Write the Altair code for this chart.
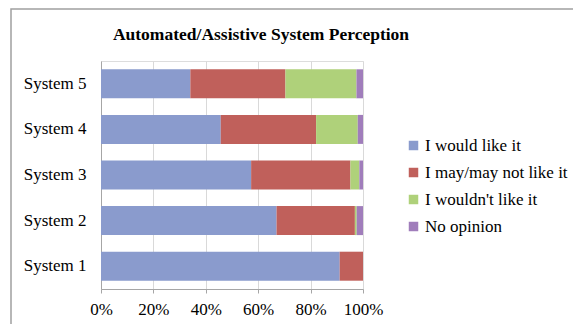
import altair as alt
import pandas as pd

systems = ["System 5", "System 4", "System 3", "System 2", "System 1"]
responses = ["I would like it", "I may/may not like it", "I wouldn't like it", "No opinion"]
would_like = [34.1, 45.7, 57.3, 67.0, 91.1]
may_not = [36.3, 36.4, 37.9, 29.9, 8.9]
wouldnt = [27.1, 15.9, 3.4, 0.7, 0.0]
no_opinion = [2.5, 2.0, 1.4, 2.4, 0.0]
colors = ["#8A9BCD", "#C0605B", "#AFD17A", "#A07DBB"]
x_ticks = [0, 20, 40, 60, 80, 100]

rows = []
for i, s in enumerate(systems):
    for j, (r, vals) in enumerate(zip(responses, [would_like, may_not, wouldnt, no_opinion])):
        rows.append({"system": s, "response": r, "value": vals[i] / 100.0, "order": j})
df = pd.DataFrame(rows)

font = "Liberation Serif"

bars = alt.Chart(df).mark_bar(size=29).encode(
    y=alt.Y("system:N", sort=systems, title=None,
            scale=alt.Scale(paddingInner=0.36, paddingOuter=0.18),
            axis=alt.Axis(ticks=False, labelPadding=15, labelFontSize=17, labelFont=font,
                          labelColor="#000000", domainColor="#A6A6A6", grid=False)),
    x=alt.X("value:Q", stack="zero", title=None,
            scale=alt.Scale(domain=[0, 1], nice=False),
            axis=alt.Axis(values=[v / 100 for v in x_ticks], format=".0%", labelFontSize=17,
                          labelFont=font, labelColor="#000000", labelPadding=8,
                          tickSize=4, tickColor="#A6A6A6", domainColor="#A6A6A6",
                          grid=True, gridColor="#D9D9D9", labelFlush=False)),
    color=alt.Color("response:N", scale=alt.Scale(domain=responses, range=colors),
                    legend=alt.Legend(title=None, orient="none", legendX=304, legendY=76,
                                      symbolType="square", symbolSize=90, symbolStrokeWidth=0,
                                      labelFontSize=17, labelFont=font, labelColor="#000000",
                                      rowPadding=9, labelOffset=3)),
    order=alt.Order("order:Q"),
)

frame = alt.Chart(pd.DataFrame({"a": [0]})).mark_rect(fill=None, stroke="#A0A0A0", strokeWidth=1.5).encode(
    x=alt.value(-90), x2=alt.value(480), y=alt.value(-52), y2=alt.value(300)
)

chart = alt.layer(frame, bars).properties(
    width=262, height=228,
    title=alt.TitleParams("Automated/Assistive System Perception", font=font, fontSize=17.5,
                          fontWeight="bold", color="#000000", anchor="middle", dx=29,
                          baseline="alphabetic", offset=-49),
    padding={"left": 101, "top": 61, "right": 210, "bottom": 35},
    autosize=alt.AutoSizeParams(type="none"),
).configure_view(stroke=None).configure(background="#FFFFFF")

chart.save("out.html", embed_options={"renderer": "svg", "actions": False})
